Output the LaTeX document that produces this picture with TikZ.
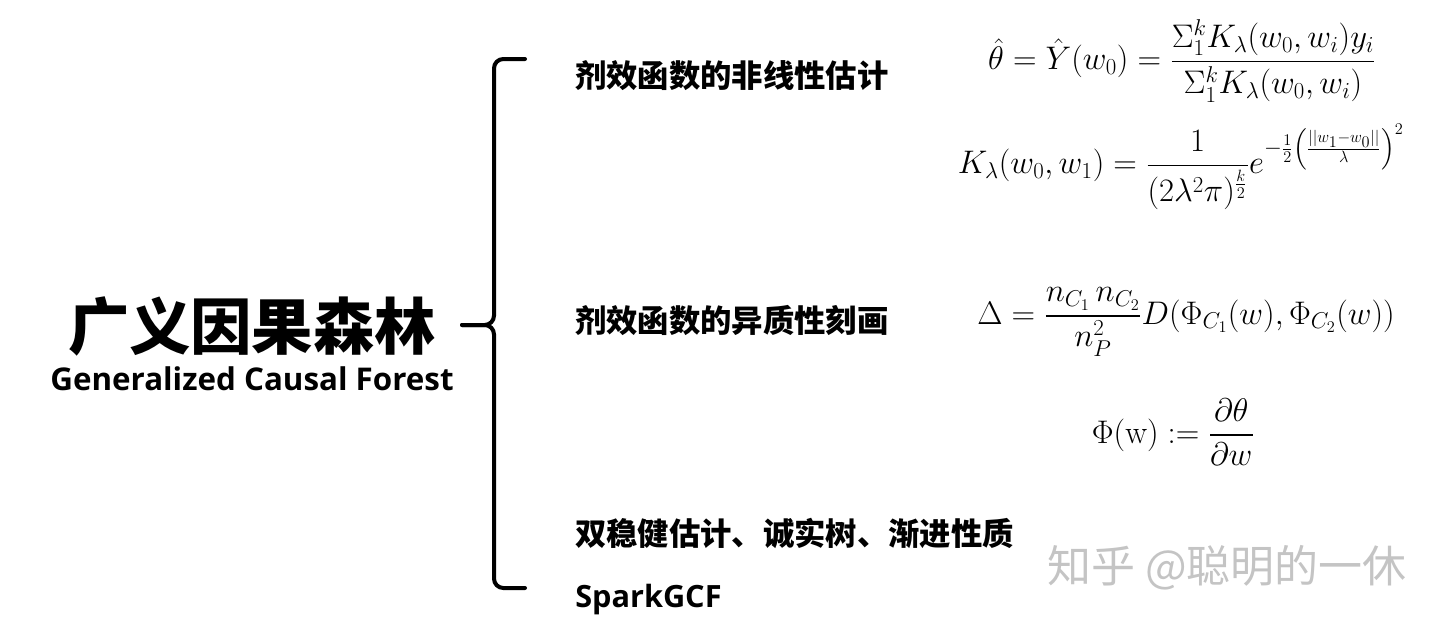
\documentclass[tikz,border=0pt]{standalone}
\usepackage{fix-cm}
\usepackage{amsmath}
\usepackage{fontspec}
\usepackage{tikz}
\usetikzlibrary{positioning}
\newfontfamily\cjkfont{Noto Sans CJK SC}
\newfontfamily\enfont{Open Sans}
\definecolor{MarkGray}{HTML}{C4C4C4}
\tikzset{
  TT/.style={inner sep=0pt,font=\cjkfont\bfseries\fontsize{46}{50}\selectfont},
  ET/.style={inner sep=0pt,font=\enfont\bfseries\fontsize{23.5}{26}\selectfont},
  BR/.style={anchor=west,inner sep=0pt,font=\cjkfont\bfseries\fontsize{23.5}{26}\selectfont},
  BE/.style={BR,font=\enfont\bfseries\fontsize{23}{26}\selectfont},
  EQ/.style={inner sep=0pt,font=\fontsize{24.5}{28}\selectfont},
  WM/.style={inner sep=0pt,text=MarkGray,font=\cjkfont\fontsize{33}{36}\selectfont},
  brc/.style={line width=3pt,rounded corners=7pt,line cap=round}
}

\begin{document}
\begin{tikzpicture}[x=0.75pt,y=-0.75pt]
  \useasboundingbox (0,0) rectangle (1440,626);
  \node[TT] (gcf) at (252,326) {广义因果森林};
  \node[ET,below=8pt of gcf] (gcfen) {Generalized Causal Forest};

  \coordinate (btop) at (525,59);
  \coordinate (bbot) at (525,588);
  \coordinate (btip) at (462,325);
  \draw[brc] (btop) -- (494,59) -- (494,325) -- (btip);
  \draw[brc] (btip) -- (494,325) -- (494,588) -- (bbot);

  \node[BR] (nonlin) at (575,76) {剂效函数的非线性估计};
  \node[BR] (hetero) at (575,320) {剂效函数的异质性刻画};
  \node[BR] (robust) at (575,533) {双稳健估计、诚实树、渐进性质};
  \node[BE] (spark) at (575,600) {SparkGCF};

  \node[EQ] (eqY) at (1182,61) {$\displaystyle \hat{\theta}=\hat{Y}(w_0)=\frac{\Sigma_1^k K_\lambda(w_0,w_i)y_i}{\Sigma_1^k K_\lambda(w_0,w_i)}$};
  \node[EQ] (eqK) at (1181,167) {$\displaystyle K_\lambda(w_0,w_1)=\frac{1}{(2\lambda^2\pi)^{\frac{k}{2}}}e^{-\frac{1}{2}\left(\frac{||w_1-w_0||}{\lambda}\right)^2}$};
  \node[EQ] (eqD) at (1186,322) {$\displaystyle \Delta=\frac{n_{C_1}\,n_{C_2}}{n_P^2}D(\Phi_{C_1}(w),\Phi_{C_2}(w))$};
  \node[EQ] (eqP) at (1173,432) {$\displaystyle \Phi(\mathrm{w})\mathrel{:=}\frac{\partial\theta}{\partial w}$};

  \node[WM] (mark) at (1227,568) {知乎 @聪明的一休};
\end{tikzpicture}
\end{document}
